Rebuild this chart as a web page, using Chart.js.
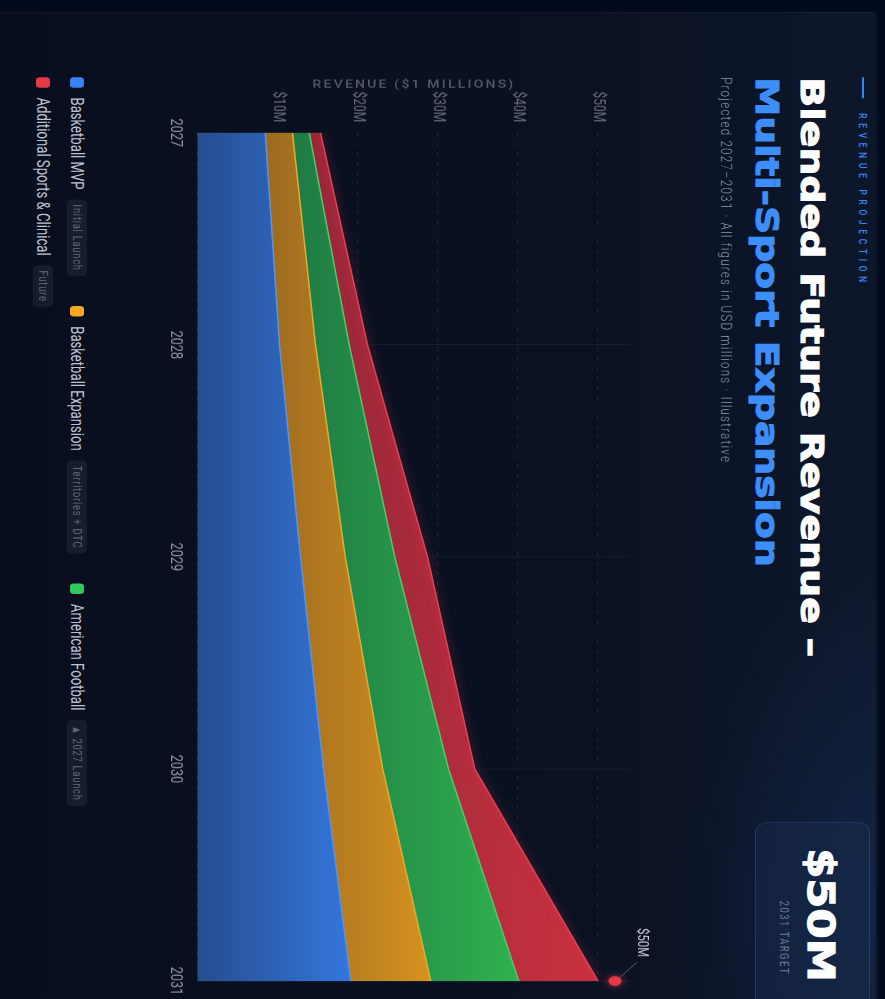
<!DOCTYPE html>
<html>
<head>
<meta charset="utf-8">
<title>Blended Future Revenue</title>
<script src="https://cdn.jsdelivr.net/npm/chart.js@4.4.1/dist/chart.umd.min.js"></script>
<style>
  html, body { margin: 0; padding: 0; width: 885px; height: 999px; overflow: hidden; background: #020a1d; }
  /* the page is laid out landscape, then turned a quarter and squeezed to fit the frame */
  #stage {
    position: absolute; left: 0; top: 0; width: 1332px; height: 885px; overflow: hidden;
    transform-origin: 0 0; transform: translate(885px, 0) rotate(90deg) scale(0.75, 1);
    background: #020a1d; font-family: Roboto, sans-serif;
  }
  .card {
    position: absolute; left: 16px; top: 7px; width: 1360px; height: 920px; border-radius: 8px;
    border: 1px solid rgba(255,255,255,0.04);
    background:
      radial-gradient(ellipse 620px 260px at 88% 0%, rgba(28,58,108,0.38), rgba(28,58,108,0) 75%),
      linear-gradient(180deg, #0d172b 0%, #0a1122 32%, #080e1d 100%);
  }
  .eyebrow { position: absolute; left: 103px; top: 16px; height: 14px; line-height: 14px; white-space: nowrap;
    font-size: 11px; font-weight: 500; letter-spacing: 6.4px; color: #3b82f6; }
  .eyebrow i { display: inline-block; width: 28px; height: 1.5px; background: #3b82f6; vertical-align: middle; margin: -2px 20px 0 0; }
  .title { position: absolute; left: 103px; top: 51px; font-family: "DejaVu Sans", sans-serif; font-weight: 700;
    font-size: 32px; line-height: 45px; white-space: nowrap; }
  .title div span { display: inline-block; transform-origin: 0 50%; -webkit-text-stroke: 1.1px currentColor; }
  .title .l1 { color: #ffffff; }
  .title .l2 { color: #3d8ef8; }
  .sub { position: absolute; left: 103px; top: 150px; font-size: 15.5px; line-height: 18px; font-weight: 300;
    letter-spacing: 1.6px; color: #8a93a5; white-space: nowrap; }
  .target { position: absolute; left: 1096px; top: 15px; width: 260px; height: 115px; box-sizing: border-box;
    border-radius: 14px; border: 1px solid rgba(70,120,200,0.28); background: rgba(24,44,80,0.45); }
  .bigv { position: absolute; right: 23px; top: 45px; font-family: "DejaVu Sans", sans-serif; font-weight: 700;
    font-size: 37px; line-height: 40px; color: #ffffff; white-space: nowrap; transform-origin: 100% 50%;
    -webkit-text-stroke: 1.2px #ffffff; }
  .tgt { position: absolute; right: 32px; top: 93px; font-size: 12.5px; line-height: 15px; letter-spacing: 2px;
    color: #6f7a8c; white-space: nowrap; }
  #chartBox { position: absolute; left: 90px; top: 220px; width: 1260px; height: 510px; }
  #legend { position: absolute; left: 103px; top: 798px; width: 1190px; display: flex; flex-wrap: wrap;
    column-gap: 40px; row-gap: 14px; }
  .item { display: flex; align-items: center; height: 20px; white-space: nowrap; }
  .sw { width: 14px; height: 14px; border-radius: 4px; margin-right: 13px; }
  .nm { font-size: 17.5px; color: #bcc3cf; margin-right: 13px; }
  .tag { font-size: 12.5px; letter-spacing: 1px; color: #5f687a; background: rgba(255,255,255,0.06);
    border-radius: 5px; padding: 3px 7px; line-height: 14px; }
</style>
</head>
<body>
<div id="stage">
  <div class="card"></div>
  <div class="eyebrow"><i></i>REVENUE PROJECTION</div>
  <div class="title">
    <div class="l1"><span id="t1">Blended Future Revenue –</span></div>
    <div class="l2"><span id="t2">Multi-Sport Expansion</span></div>
  </div>
  <div class="sub">Projected 2027–2031 · All figures in USD millions · Illustrative</div>
  <div class="target"></div>
  <div class="bigv" id="bigv">$50M</div>
  <div class="tgt">2031 TARGET</div>
  <div id="chartBox"><canvas id="revenue-chart"></canvas></div>
  <div id="legend"></div>
</div>
<script>
// values in USD millions, each series stacked on the previous one
const years = ['2027', '2028', '2029', '2030', '2031'];
const basketballMvp = [8.4, 10.2, 12.8, 15.7, 19.1];
const basketballExpansion = [3.4, 4.5, 5.6, 7.4, 10.0];
const americanFootball = [2.1, 4.2, 6.2, 8.2, 11.0];
const additionalSports = [1.4, 2.3, 4.1, 3.3, 9.9];
const seriesNames = ['Basketball MVP', 'Basketball Expansion', 'American Football', 'Additional Sports & Clinical'];
const seriesTags = ['Initial Launch', 'Territories + DTC', '▲ 2027 Launch', 'Future'];
const axisMax = 54;
const axisStep = 10;

const palette = [
  { line: '#4f94ff', dark: '#264d8e', light: '#3476de', dot: '#3b82f6' },
  { line: '#f5a524', dark: '#9c6a20', light: '#d6921f', dot: '#f5a623' },
  { line: '#3bd36a', dark: '#1f7a44', light: '#2fb14f', dot: '#2fc85a' },
  { line: '#ef3b52', dark: '#962739', light: '#c9313f', dot: '#e63946' },
];

const series = [basketballMvp, basketballExpansion, americanFootball, additionalSports];

// running totals, used for the shading range of each band
const tops = [];
series.forEach((s, i) => {
  tops.push(s.map((v, j) => v + (i > 0 ? tops[i - 1][j] : 0)));
});

function bandFill(i) {
  const p = palette[i];
  const lo = i > 0 ? Math.min(...tops[i - 1]) : 0;
  const hi = Math.max(...tops[i]);
  return (context) => {
    const chart = context.chart;
    if (!chart.chartArea) return p.light;
    const y = chart.scales.y;
    const g = chart.ctx.createLinearGradient(0, y.getPixelForValue(lo), 0, y.getPixelForValue(hi));
    g.addColorStop(0, p.dark);
    g.addColorStop(1, p.light);
    return g;
  };
}

// legend
const legendEl = document.getElementById('legend');
seriesNames.forEach((name, i) => {
  const item = document.createElement('div');
  item.className = 'item';
  item.innerHTML = '<span class="sw" style="background:' + palette[i].dot + '"></span>' +
    '<span class="nm">' + name + '</span><span class="tag">' + seriesTags[i] + '</span>';
  legendEl.appendChild(item);
});

const glowPlugin = {
  id: 'glow',
  beforeDatasetDraw(chart, args) {
    chart.ctx.save();
    chart.ctx.shadowColor = args.index === 3 ? 'rgba(235,55,75,0.75)' : 'rgba(0,0,0,0)';
    chart.ctx.shadowBlur = args.index === 3 ? 10 : 0;
  },
  afterDatasetDraw(chart) {
    chart.ctx.restore();
  },
};

const axisTitlePlugin = {
  id: 'axisTitle',
  afterDraw(chart) {
    const { ctx, chartArea } = chart;
    ctx.save();
    ctx.font = '500 14px Roboto';
    ctx.letterSpacing = '2.2px';
    ctx.fillStyle = '#4f5869';
    ctx.textAlign = 'center';
    ctx.textBaseline = 'middle';
    ctx.translate(chartArea.left - 64, (chartArea.top + chartArea.bottom) / 2);
    ctx.rotate(-Math.PI / 2);
    ctx.fillText('REVENUE ($1 MILLIONS)', 0, 0);
    ctx.restore();
  },
};

const targetPlugin = {
  id: 'target',
  afterDatasetsDraw(chart) {
    const { ctx, scales } = chart;
    const last = years.length - 1;
    const total = tops[tops.length - 1][last];
    const x = scales.x.getPixelForValue(last);
    const y = scales.y.getPixelForValue(total) - 17;
    ctx.save();
    ctx.strokeStyle = 'rgba(200,206,216,0.45)';
    ctx.lineWidth = 1;
    ctx.beginPath();
    ctx.moveTo(x - 4, y - 4);
    ctx.lineTo(x - 25, y - 22);
    ctx.stroke();
    ctx.shadowColor = 'rgba(230,57,70,0.8)';
    ctx.shadowBlur = 8;
    ctx.fillStyle = '#e63946';
    ctx.beginPath();
    ctx.arc(x, y, 6.5, 0, Math.PI * 2);
    ctx.fill();
    ctx.shadowBlur = 0;
    ctx.font = '15px Roboto';
    ctx.fillStyle = '#c5cbd5';
    ctx.textAlign = 'right';
    ctx.textBaseline = 'alphabetic';
    ctx.fillText('$' + Math.round(total) + 'M', x - 32, y - 23);
    ctx.restore();
  },
};

Chart.defaults.font.family = 'Roboto';

const ctx = document.getElementById('revenue-chart').getContext('2d');
new Chart(ctx, {
  type: 'line',
  data: {
    labels: years,
    datasets: series.map((values, i) => ({
      label: seriesNames[i],
      data: values,
      fill: i === 0 ? 'origin' : '-1',
      backgroundColor: bandFill(i),
      borderColor: palette[i].line,
      borderWidth: 1.5,
      borderJoinStyle: 'round',
      pointRadius: 0,
      tension: 0,
    })),
  },
  options: {
    responsive: true,
    maintainAspectRatio: false,
    animation: false,
    layout: { padding: { top: 35, right: 42, bottom: 0, left: 0 } },
    plugins: {
      legend: { display: false },
      tooltip: { enabled: false },
    },
    scales: {
      x: {
        grid: {
          drawTicks: false,
          color: (c) => (c.index === 0 ? 'rgba(0,0,0,0)' : 'rgba(255,255,255,0.06)'),
        },
        border: { color: 'rgba(255,255,255,0.1)' },
        ticks: { color: '#8b93a3', padding: 13, font: { size: 17 } },
        afterFit: (scale) => { scale.height = 43; },
      },
      y: {
        stacked: true,
        min: 0,
        max: axisMax,
        grid: { drawTicks: false, color: 'rgba(255,255,255,0.09)' },
        border: { display: false, dash: [5, 8] },
        ticks: {
          stepSize: axisStep,
          includeBounds: false,
          color: '#646c7c',
          padding: 14,
          font: { size: 16 },
          callback: (v) => (v === 0 ? '' : '$' + v + 'M'),
        },
        afterFit: (scale) => { scale.width = 87; },
      },
    },
  },
  plugins: [glowPlugin, axisTitlePlugin, targetPlugin],
});

// stretch the display type to the widths of the wide face used in the design
function stretchTo(el, width) {
  el.style.transform = 'scaleX(' + (width / el.offsetWidth) + ')';
}
document.fonts.ready.then(() => {
  stretchTo(document.getElementById('t1'), 774);
  stretchTo(document.getElementById('t2'), 653);
  stretchTo(document.getElementById('bigv'), 178);
});
</script>
</body>
</html>
